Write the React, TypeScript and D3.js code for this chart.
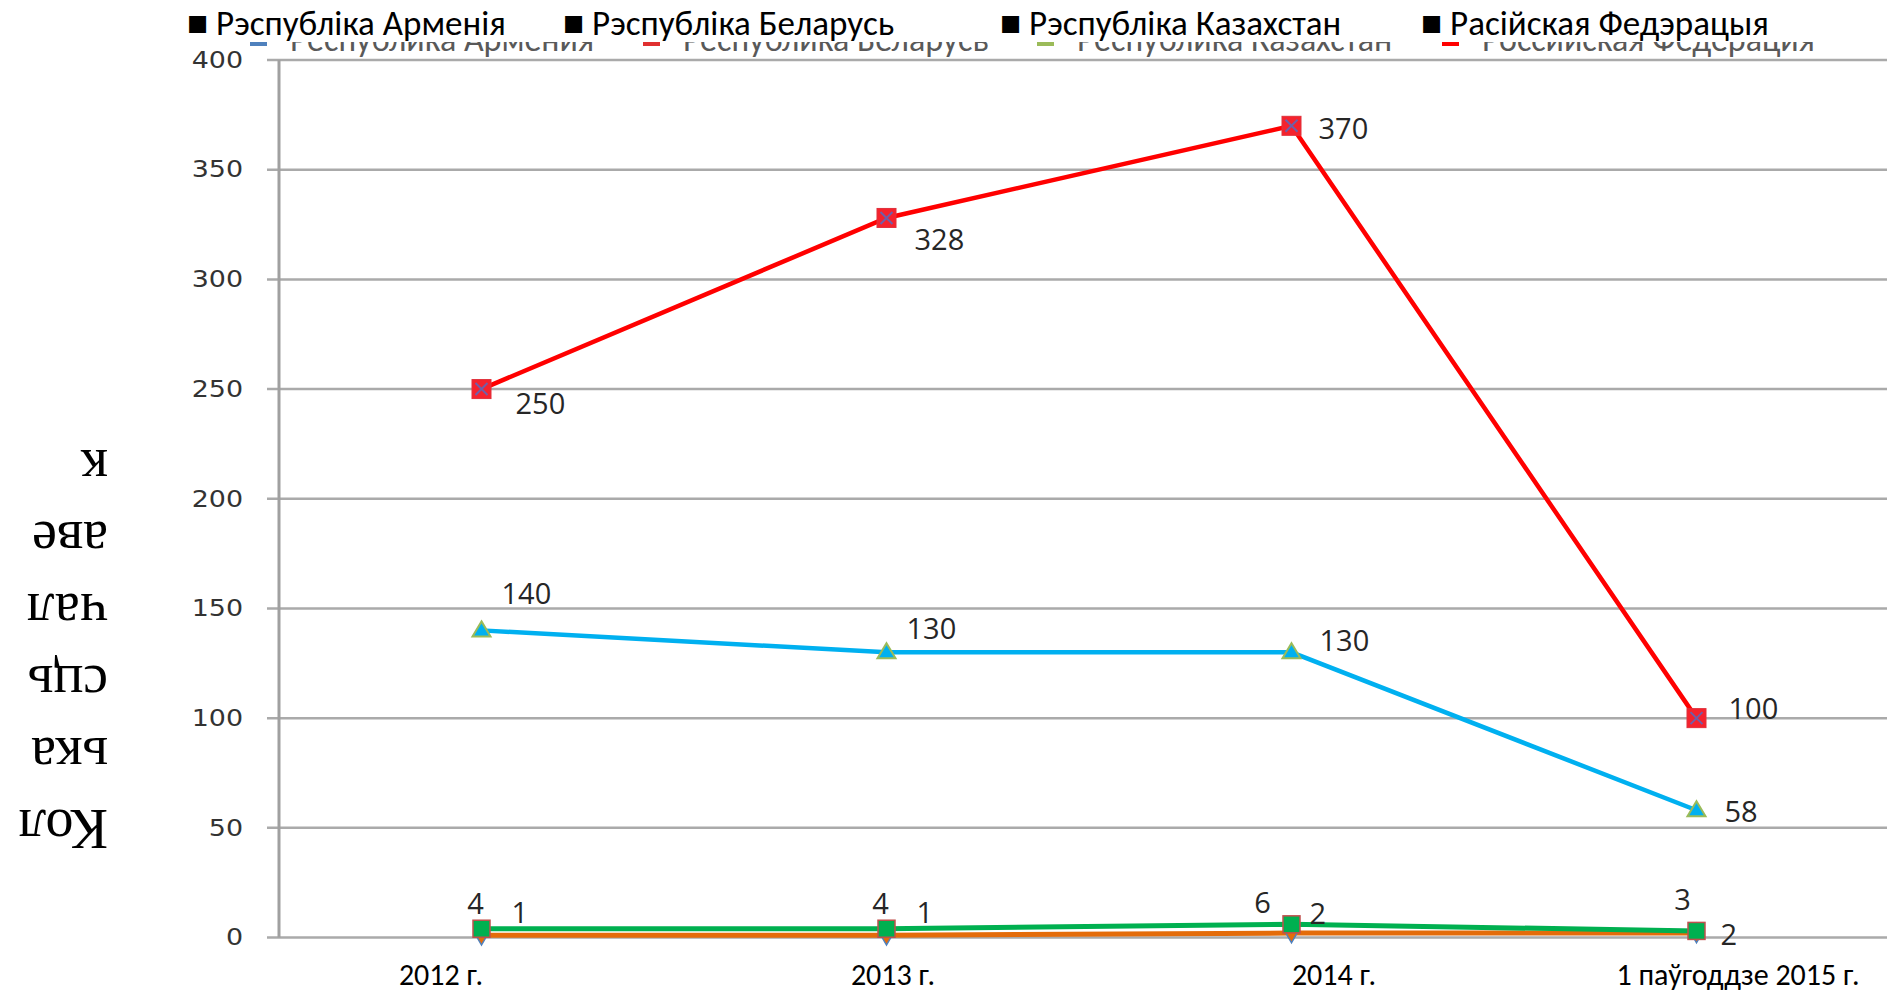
import React, { useEffect, useRef } from "react";
import * as d3 from "d3";

// chart values
const categories = ["2012 г.", "2013 г.", "2014 г.", "1 паўгоддзе 2015 г."];
const countries = ["Рэспубліка Арменія", "Рэспубліка Беларусь", "Рэспубліка Казахстан", "Расійская Федэрацыя"];
// legend of the original picture, partly hidden under the overlay
const hiddenLegend = ["Республика Армения", "Республика Беларусь", "Республика Казахстан", "Российская Федерация"];
const armenia = [1, 1, 2, 2];
const belarus = [4, 4, 6, 3];
const kazakhstan = [140, 130, 130, 58];
const russia = [250, 328, 370, 100];
const yTicks = [0, 50, 100, 150, 200, 250, 300, 350, 400];
const yTitleLines = ["Кол", "ька", "сць", "чал", "аве", "к"];

const W = 1887;
const H = 992;
const calibri = "Carlito, Lato, 'Open Sans', sans-serif";

type Placement = [number, number, string];

const App = () => {
  const ref = useRef<SVGSVGElement>(null);

  useEffect(() => {
    document.body.style.margin = "0";
    const svg = d3.select(ref.current);
    svg.selectAll("*").remove();

    const x = d3.scaleBand().domain(categories).range([279, 1899]);
    const cx = (c: string) => (x(c) as number) + x.bandwidth() / 2;
    const y = d3.scaleLinear().domain([0, 400]).range([937.5, 60]);

    // gridlines + ticks
    const grid = svg.append("g");
    grid
      .selectAll("line.grid")
      .data(yTicks)
      .join("line")
      .attr("x1", 267)
      .attr("x2", W)
      .attr("y1", (d) => y(d))
      .attr("y2", (d) => y(d))
      .attr("stroke", "#aaaaaa")
      .attr("stroke-width", 2.5);
    grid
      .append("line")
      .attr("x1", 279)
      .attr("x2", 279)
      .attr("y1", y(400))
      .attr("y2", y(0))
      .attr("stroke", "#a0a0a0")
      .attr("stroke-width", 3);
    grid
      .selectAll("text")
      .data(yTicks)
      .join("text")
      .attr("transform", (d) => `translate(243,${y(d)}) scale(1.17,1)`)
      .attr("text-anchor", "end")
      .attr("dominant-baseline", "central")
      .attr("font-family", "'DejaVu Sans', Verdana, sans-serif")
      .attr("font-size", 23)
      .attr("fill", "#333")
      .text((d) => d);

    const line = (vals: number[]) =>
      d3.line<number>().x((_, i) => cx(categories[i])).y((d) => y(d))(vals);

    // Armenia: orange line, diamonds
    svg.append("path").attr("d", line(armenia)).attr("fill", "none").attr("stroke", "#E46C0A").attr("stroke-width", 5);
    svg
      .append("g")
      .selectAll("path")
      .data(armenia)
      .join("path")
      .attr("d", d3.symbol(d3.symbolDiamond, 110)())
      .attr("transform", (d, i) => `translate(${cx(categories[i])},${y(d)})`)
      .attr("fill", "#E46C0A")
      .attr("stroke", "#4F81BD")
      .attr("stroke-width", 1.5);

    // Belarus: green line, squares
    svg.append("path").attr("d", line(belarus)).attr("fill", "none").attr("stroke", "#00B050").attr("stroke-width", 5);
    svg
      .append("g")
      .selectAll("rect")
      .data(belarus)
      .join("rect")
      .attr("x", (d, i) => cx(categories[i]) - 8.5)
      .attr("y", (d) => y(d) - 8.5)
      .attr("width", 17)
      .attr("height", 17)
      .attr("fill", "#00B050")
      .attr("stroke", "#C0504D")
      .attr("stroke-width", 1.5);

    // Kazakhstan: cyan line, triangles
    svg.append("path").attr("d", line(kazakhstan)).attr("fill", "none").attr("stroke", "#00B0F0").attr("stroke-width", 4.5);
    svg
      .append("g")
      .selectAll("path")
      .data(kazakhstan)
      .join("path")
      .attr("d", "M0,-9L9,6L-9,6Z")
      .attr("transform", (d, i) => `translate(${cx(categories[i])},${y(d)})`)
      .attr("fill", "#00B0F0")
      .attr("stroke", "#9BBB59")
      .attr("stroke-width", 2);

    // Russia: red line, square with x
    svg.append("path").attr("d", line(russia)).attr("fill", "none").attr("stroke", "#FF0000").attr("stroke-width", 4.5);
    const rm = svg
      .append("g")
      .selectAll("g")
      .data(russia)
      .join("g")
      .attr("transform", (d, i) => `translate(${cx(categories[i])},${y(d)})`);
    rm.append("rect")
      .attr("x", -9.5)
      .attr("y", -9.5)
      .attr("width", 19)
      .attr("height", 19)
      .attr("fill", "#F5222D")
      .attr("stroke", "#E0303A")
      .attr("stroke-width", 1);
    rm.append("path").attr("d", "M-6,-6L6,6M6,-6L-6,6").attr("stroke", "#6F5FA8").attr("stroke-width", 2);

    // data labels, offsets from each point
    const labelSets: [number[], Placement[]][] = [
      [armenia, [[30, -24, "start"], [30, -24, "start"], [18, -21, "start"], [24, 0, "start"]]],
      [belarus, [[-6, -26, "middle"], [-6, -26, "middle"], [-29, -23, "middle"], [-14, -32, "middle"]]],
      [kazakhstan, [[20, -38, "start"], [20, -25, "start"], [28, -13, "start"], [28, 0, "start"]]],
      [russia, [[34, 13, "start"], [28, 21, "start"], [27, 2, "start"], [32, -11, "start"]]],
    ];
    labelSets.forEach(([vals, pos]) => {
      svg
        .append("g")
        .selectAll("text")
        .data(vals)
        .join("text")
        .attr("x", (d, i) => cx(categories[i]) + pos[i][0])
        .attr("y", (d, i) => y(d) + pos[i][1])
        .attr("text-anchor", (d, i) => pos[i][2])
        .attr("dominant-baseline", "central")
        .attr("font-family", "'Open Sans', Lato, sans-serif")
        .attr("font-size", 29)
        .attr("fill", "#262626")
        .text((d) => d);
    });

    // original legend, cut off at the top
    svg
      .append("defs")
      .append("clipPath")
      .attr("id", "legclip")
      .append("rect")
      .attr("x", 0)
      .attr("y", 42)
      .attr("width", W)
      .attr("height", 16);
    const hx = d3.scaleOrdinal<string, number>().domain(hiddenLegend).range([250, 643, 1037, 1442]);
    const hColors = ["#4F81BD", "#E03030", "#9BBB59", "#FF0000"];
    const hl = svg.append("g").attr("clip-path", "url(#legclip)");
    hl.selectAll("rect")
      .data(hiddenLegend)
      .join("rect")
      .attr("x", (d) => hx(d))
      .attr("y", 38)
      .attr("width", 17)
      .attr("height", 8)
      .attr("fill", (d, i) => hColors[i]);
    hl.selectAll("text")
      .data(hiddenLegend)
      .join("text")
      .attr("x", (d) => hx(d) + 40)
      .attr("y", 51)
      .attr("font-family", calibri)
      .attr("font-size", 34)
      .attr("fill", "#595959")
      .text((d) => d);

    // overlay legend
    const lx = d3.scaleOrdinal<string, number>().domain(countries).range([187, 563, 1000, 1421]);
    svg
      .append("g")
      .selectAll("text")
      .data(countries)
      .join("text")
      .attr("x", (d) => lx(d))
      .attr("y", 35)
      .attr("font-family", calibri)
      .attr("font-size", 35)
      .attr("fill", "#000")
      .text((d) => "■ " + d);

    // overlay category labels
    const catX = d3.scaleOrdinal<string, number>().domain(categories).range([441, 893, 1334, 1738]);
    svg
      .append("g")
      .selectAll("text")
      .data(categories)
      .join("text")
      .attr("x", (d) => catX(d))
      .attr("y", 985)
      .attr("text-anchor", "middle")
      .attr("font-family", calibri)
      .attr("font-size", 30)
      .attr("fill", "#000")
      .text((d) => d);

    // y title, upside down
    svg
      .append("g")
      .selectAll("text")
      .data(yTitleLines)
      .join("text")
      .attr("transform", (d, i) => `translate(108,${810 - 72 * i}) rotate(180)`)
      .attr("font-family", "'Liberation Serif', 'Times New Roman', serif")
      .attr("font-size", 56)
      .attr("fill", "#000")
      .text((d) => d);
  }, []);

  return <svg ref={ref} width={W} height={H} style={{ display: "block", background: "#fff" }} />;
};

export default App;
